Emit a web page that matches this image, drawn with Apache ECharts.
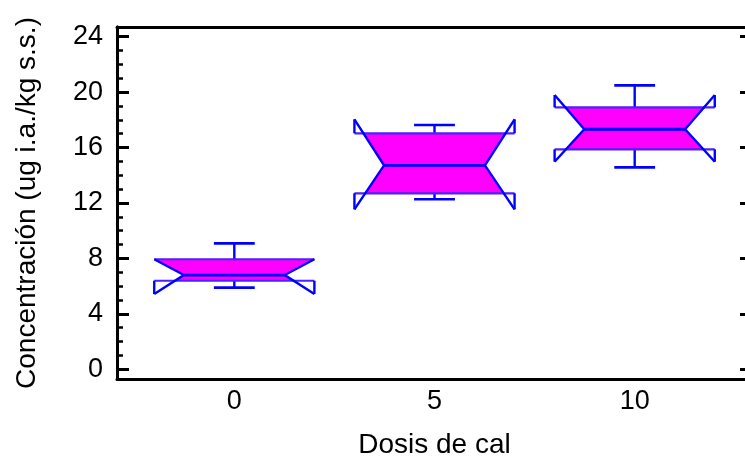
<!DOCTYPE html>
<html>
<head>
<meta charset="utf-8">
<script src="https://cdn.jsdelivr.net/npm/echarts@6/dist/echarts.min.js"></script>
<style>
  html, body { margin: 0; padding: 0; background: #ffffff; }
  #chart { width: 745px; height: 459px; }
</style>
</head>
<body>
<div id="chart"></div>
<script>
// ---- Data ----
const doses       = [0, 5, 10];              // Dosis de cal
const whiskerLow  = [5.89, 12.27, 14.57];
const q1          = [6.39, 12.70, 15.87];
const median      = [6.80, 14.72, 17.32];
const q3          = [7.94, 17.03, 18.90];
const whiskerHigh = [9.09, 17.63, 20.49];
const notchLow    = [5.43, 11.54, 14.98];
const notchHigh   = [7.94, 18.04, 19.79];
const yMajorTicks = [0, 4, 8, 12, 16, 20, 24];
const yMinorTicks = [0,1,2,3,4,5,6,7,8,9,10,11,12,13,14,15,16,17,18,19,20,21,22,23,24];
const xTicks      = [0, 5, 10];

// ---- Styling constants (sizes in x-axis units) ----
const BOX_HALF = 2.0;
const NOTCH_HALF = 1.26;
const CAP_HALF = 0.51;
const FILL = '#ff00ff';
const EDGE = '#0000ff';
const QEDGE = '#4a22ff';
const FONT = 'Liberation Sans, Arial, sans-serif';
const FS = 27;
const LW = 2.4;

const boxData = doses.map((d, i) => [d, whiskerLow[i], q1[i], median[i], q3[i], whiskerHigh[i], notchLow[i], notchHigh[i]]);

function renderItem(params, api) {
  const x = api.value(0);
  const wL = api.value(1), lo = api.value(2), med = api.value(3), hi = api.value(4), wH = api.value(5);
  const nL = api.value(6), nH = api.value(7);
  const W = BOX_HALF, w = NOTCH_HALF, c = CAP_HALF;
  const P = (xv, yv) => api.coord([xv, yv]);
  function halfAt(y) {
    if (y >= med) {
      const f = nH > med ? Math.min(1, (y - med) / (nH - med)) : 1;
      return w + (W - w) * f;
    } else {
      const f = med > nL ? Math.min(1, (med - y) / (med - nL)) : 1;
      return w + (W - w) * f;
    }
  }
  const right = [];
  right.push([x + halfAt(hi), hi]);
  if (hi > nH) right.push([x + W, nH]);
  right.push([x + w, med]);
  if (lo < nL) right.push([x + W, nL]);
  right.push([x + halfAt(lo), lo]);
  const left = right.map(p => [2 * x - p[0], p[1]]).reverse();
  const fillPts = right.concat(left).map(p => P(p[0], p[1]));

  const children = [];
  children.push({ type: 'polygon', shape: { points: fillPts }, style: { fill: FILL, stroke: null } });

  const line = (a, b, color, width) => {
    const pa = P(a[0], a[1]), pb = P(b[0], b[1]);
    return { type: 'line', shape: { x1: pa[0], y1: pa[1], x2: pb[0], y2: pb[1] }, style: { stroke: color, lineWidth: width } };
  };
  const poly = (pts, color, width) => ({ type: 'polyline', shape: { points: pts.map(p => P(p[0], p[1])) }, style: { stroke: color, lineWidth: width, fill: null } });

  children.push(line([x, hi], [x, wH], EDGE, LW));
  children.push(line([x - c, wH], [x + c, wH], EDGE, 2.7));
  children.push(line([x, lo], [x, wL], EDGE, LW));
  children.push(line([x - c, wL], [x + c, wL], EDGE, 2.7));

  children.push(line([x - W, hi], [x + W, hi], QEDGE, 2.2));
  children.push(line([x - W, lo], [x + W, lo], QEDGE, 2.2));
  if (nH > hi) {
    children.push(line([x - W, hi], [x - W, nH], EDGE, LW));
    children.push(line([x + W, hi], [x + W, nH], EDGE, LW));
  }
  if (nL < lo) {
    children.push(line([x - W, lo], [x - W, nL], EDGE, LW));
    children.push(line([x + W, lo], [x + W, nL], EDGE, LW));
  }
  children.push(poly([[x - W, nH], [x - w, med], [x - W, nL]], EDGE, LW));
  children.push(poly([[x + W, nH], [x + w, med], [x + W, nL]], EDGE, LW));
  children.push(line([x - w, med], [x + w, med], EDGE, 2.8));

  return { type: 'group', children };
}

const chart = echarts.init(document.getElementById('chart'), null, { renderer: 'canvas' });
const axisLine = { show: true, onZero: false, lineStyle: { color: '#000', width: 3 } };
const yMin = -0.7, yMax = 24.7, xMin = -2.93, xMax = 12.93;

chart.setOption({
  animation: false,
  backgroundColor: '#ffffff',
  grid: { left: 117, top: 27, width: 635, height: 352, containLabel: false, outerBoundsMode: 'none' },
  xAxis: [
    {
      type: 'value', position: 'bottom', min: xMin, max: xMax,
      axisLine: axisLine, axisTick: { show: false }, splitLine: { show: false },
      axisLabel: { customValues: xTicks, fontSize: FS, color: '#000', fontFamily: FONT, margin: 9 },
      name: 'Dosis de cal', nameLocation: 'middle', nameGap: 52,
      nameTextStyle: { fontSize: 28, color: '#000', fontFamily: FONT }
    },
    {
      type: 'value', position: 'top', min: xMin, max: xMax,
      axisLine: axisLine, axisTick: { show: false }, axisLabel: { show: false }, splitLine: { show: false }
    }
  ],
  yAxis: [
    {
      type: 'value', position: 'left', min: yMin, max: yMax,
      axisLine: axisLine, splitLine: { show: false },
      axisTick: { customValues: yMajorTicks, inside: true, length: 12, lineStyle: { color: '#000', width: 3 } },
      axisLabel: { customValues: yMajorTicks, fontSize: FS, color: '#000', fontFamily: FONT, margin: 14 },
      name: 'Concentración (ug i.a./kg s.s.)', nameLocation: 'middle', nameGap: 76, nameRotate: 90,
      nameTextStyle: { fontSize: 28, color: '#000', fontFamily: FONT }
    },
    {
      type: 'value', position: 'left', min: yMin, max: yMax,
      axisLine: axisLine, splitLine: { show: false },
      axisTick: { customValues: yMinorTicks, inside: true, length: 6, lineStyle: { color: '#000', width: 2.5 } },
      axisLabel: { show: false }
    },
    {
      type: 'value', position: 'right', min: yMin, max: yMax,
      axisLine: axisLine, splitLine: { show: false },
      axisTick: { customValues: yMajorTicks, inside: true, length: 12, lineStyle: { color: '#000', width: 3 } },
      axisLabel: { show: false }
    }
  ],
  series: [
    {
      type: 'custom',
      xAxisIndex: 0, yAxisIndex: 0,
      renderItem: renderItem,
      encode: { x: 0, y: [1, 2, 3, 4, 5, 6, 7] },
      data: boxData,
      clip: false
    }
  ]
});
</script>
</body>
</html>
